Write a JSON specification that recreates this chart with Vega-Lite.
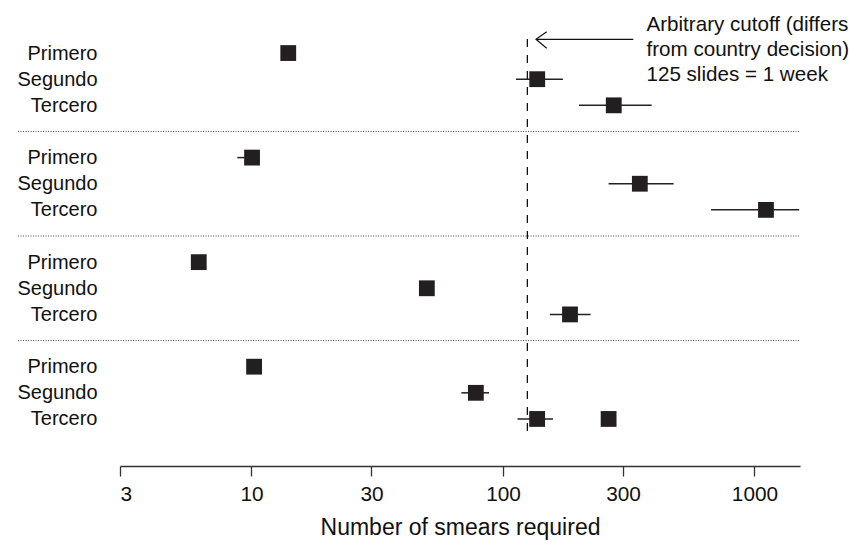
{
  "$schema": "https://vega.github.io/schema/vega-lite/v6.json",
  "width": 680,
  "height": 466,
  "autosize": "none",
  "padding": {"left": 120, "top": 0, "right": 49, "bottom": 76},
  "background": "white",
  "config": {"view": {"stroke": null}, "font": "Liberation Sans", "axis": {"grid": false}},
  "data": {"values": [{}]},
  "datasets": {
    "points": [
      {"group": 1, "label": "Primero", "pos": 0, "value": 14.0},
      {"group": 1, "label": "Segundo", "pos": 1, "value": 136.8, "lo": 112.6, "hi": 173},
      {"group": 1, "label": "Tercero", "pos": 2, "value": 275.7, "lo": 200.5, "hi": 390},
      {"group": 2, "label": "Primero", "pos": 4, "value": 10.05, "lo": 8.78, "hi": 10.6},
      {"group": 2, "label": "Segundo", "pos": 5, "value": 350, "lo": 263, "hi": 477},
      {"group": 2, "label": "Tercero", "pos": 6, "value": 1111, "lo": 672, "hi": 1506},
      {"group": 3, "label": "Primero", "pos": 8, "value": 6.17},
      {"group": 3, "label": "Segundo", "pos": 9, "value": 49.8},
      {"group": 3, "label": "Tercero", "pos": 10, "value": 184.7, "lo": 153.6, "hi": 223},
      {"group": 4, "label": "Primero", "pos": 12, "value": 10.24},
      {"group": 4, "label": "Segundo", "pos": 13, "value": 78, "lo": 68.3, "hi": 88},
      {"group": 4, "label": "Tercero", "pos": 14, "value": 136.7, "lo": 114.2, "hi": 158},
      {"group": 4, "label": "Tercero", "pos": 14, "value": 263}
    ],
    "separators": [{"pos": 3}, {"pos": 7}, {"pos": 11}],
    "arrowhead": [
      {"ax": 149.2, "ay": -0.817, "o": 0},
      {"ax": 135.3, "ay": -0.526, "o": 1},
      {"ax": 149.2, "ay": -0.182, "o": 2}
    ]
  },
  "layer": [
    {
      "data": {"name": "separators"},
      "mark": {"type": "rule", "strokeDash": [1, 1.5], "color": "#444", "strokeWidth": 1},
      "encoding": {
        "y": {"field": "pos", "type": "quantitative"},
        "x": {"datum": 1.18, "type": "quantitative"},
        "x2": {"datum": 1517}
      }
    },
    {
      "mark": {"type": "rule", "strokeDash": [8, 8], "color": "#111", "strokeWidth": 1.3},
      "encoding": {
        "x": {"datum": 125, "type": "quantitative"},
        "y": {"datum": -0.54, "type": "quantitative"},
        "y2": {"datum": 14.69}
      }
    },
    {
      "data": {"name": "points"},
      "transform": [{"filter": "isValid(datum.lo)"}],
      "mark": {"type": "rule", "color": "#222", "strokeWidth": 1.5},
      "encoding": {
        "x": {"field": "lo", "type": "quantitative"},
        "x2": {"field": "hi"},
        "y": {"field": "pos", "type": "quantitative"}
      }
    },
    {
      "mark": {"type": "rule", "color": "#111", "strokeWidth": 1.2},
      "encoding": {
        "x": {"datum": 135.3, "type": "quantitative"},
        "x2": {"datum": 329.7},
        "y": {"datum": -0.526, "type": "quantitative"}
      }
    },
    {
      "data": {"name": "arrowhead"},
      "mark": {"type": "line", "color": "#111", "strokeWidth": 1.2},
      "encoding": {
        "x": {"field": "ax", "type": "quantitative"},
        "y": {"field": "ay", "type": "quantitative"},
        "order": {"field": "o"}
      }
    },
    {
      "mark": {"type": "text", "align": "left", "baseline": "alphabetic", "fontSize": 20.6, "lineHeight": 25, "color": "#111",
        "text": ["Arbitrary cutoff (differs", "from country decision)", "125 slides = 1 week"]},
      "encoding": {
        "x": {"datum": 372, "type": "quantitative"},
        "y": {"datum": -0.86, "type": "quantitative"}
      }
    },
    {
      "data": {"name": "points"},
      "mark": {"type": "point", "shape": "square", "filled": true, "size": 250, "color": "#231f20", "opacity": 1},
      "encoding": {
        "x": {
          "field": "value", "type": "quantitative",
          "scale": {"type": "log", "domain": [3, 1517], "nice": false},
          "axis": {
            "values": [3, 10, 30, 100, 300, 1000], "format": "d",
            "title": "Number of smears required",
            "domainColor": "#333", "domainWidth": 1.5, "tickColor": "#333", "tickWidth": 1.3, "tickSize": 10,
            "labelFontSize": 20.8, "labelColor": "#111", "labelPadding": 8,
            "titleFontSize": 23, "titleFontWeight": "normal", "titleColor": "#111", "titlePadding": 13
          }
        },
        "y": {
          "field": "pos", "type": "quantitative",
          "scale": {"domain": [-2.03, 15.8], "reverse": true, "nice": false, "zero": false},
          "axis": {
            "values": [0, 1, 2, 4, 5, 6, 8, 9, 10, 12, 13, 14],
            "labelExpr": "['Primero','Segundo','Tercero',''][datum.value % 4]",
            "domain": false, "ticks": false, "labelPadding": 23,
            "labelFontSize": 20, "labelColor": "#111", "title": null
          }
        }
      }
    }
  ]
}
